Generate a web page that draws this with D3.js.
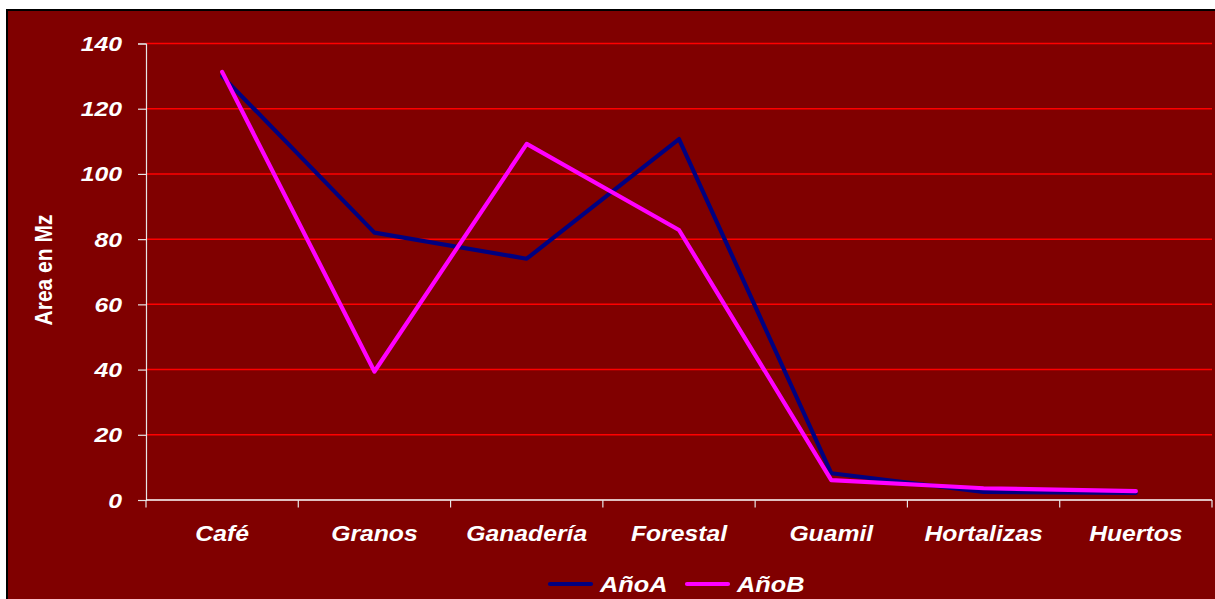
<!DOCTYPE html>
<html><head><meta charset="utf-8">
<script src="https://cdn.jsdelivr.net/npm/d3@7"></script>
<style>body{margin:0;background:#fff}svg{display:block}text{font-family:"Liberation Sans",Arial,sans-serif;font-weight:bold;font-style:italic;fill:#fff}</style>
</head><body>
<svg id="c" width="1215" height="599"></svg>
<script>
const categories = ["Café","Granos","Ganadería","Forestal","Guamil","Hortalizas","Huertos"];
const anoA = [130, 82, 74, 110.7, 8.2, 2.5, 2.2];
const anoB = [131.3, 39.4, 109.2, 82.8, 6.1, 3.6, 2.7];
const seriesNames = ["AñoA","AñoB"];
const yTicks = [0,20,40,60,80,100,120,140];

const svg = d3.select("#c");
const SX = 1.15;
svg.append("rect").attr("x",7).attr("y",10).attr("width",1220).attr("height",600)
  .attr("fill","#800000").attr("stroke","#000").attr("stroke-width",2);

const x = d3.scaleBand().domain(categories).range([146,1212]).padding(0);
const y = d3.scaleLinear().domain([0,140]).range([500,43.5]);
const cx = c => x(c) + x.bandwidth()/2;

// gridlines
svg.append("g").selectAll("line").data(yTicks.filter(t=>t>0)).join("line")
  .attr("x1",146).attr("x2",1212).attr("y1",d=>y(d)).attr("y2",d=>y(d))
  .attr("stroke","#ff0000").attr("stroke-width",1.5);

// y axis
const yAxis = svg.append("g").attr("transform","translate(146,0)")
  .call(d3.axisLeft(y).tickValues(yTicks).tickSize(8).tickFormat(d3.format("d")));
yAxis.select(".domain").attr("stroke","#e6e6e6").attr("stroke-width",1.2);
yAxis.selectAll(".tick line").attr("stroke","#e6e6e6").attr("stroke-width",1.2);
yAxis.selectAll(".tick text").remove();
svg.append("g").selectAll("text").data(yTicks).join("text")
  .attr("transform",d=>`translate(122,${y(d)+7.5}) scale(${SX+0.03},1)`)
  .attr("text-anchor","end").attr("font-size",21).text(d=>d);

// x axis
svg.append("line").attr("x1",146).attr("x2",1212).attr("y1",500).attr("y2",500)
  .attr("stroke","#fff").attr("stroke-width",1.5);
const bounds = categories.map(c=>x(c)).concat([1212]);
svg.append("g").selectAll("line").data(bounds).join("line")
  .attr("x1",d=>d).attr("x2",d=>d).attr("y1",500).attr("y2",507.5)
  .attr("stroke","#e6e6e6").attr("stroke-width",1.2);
svg.append("g").selectAll("text").data(categories).join("text")
  .attr("transform",d=>`translate(${cx(d)},541) scale(${SX},1)`)
  .attr("text-anchor","middle").attr("font-size",21.5).text(d=>d);

// y title
svg.append("text").attr("transform",`translate(52,270) scale(${SX},1) rotate(-90)`)
  .attr("text-anchor","middle").attr("font-size",21).style("font-style","normal")
  .text("Area en Mz");

// lines
const line = d3.line().x((d,i)=>cx(categories[i])).y(d=>y(d));
const colors = ["#000080","#ff00ff"];
[anoA, anoB].forEach((s,i)=>{
  svg.append("path").datum(s).attr("d",line).attr("fill","none")
    .attr("stroke",colors[i]).attr("stroke-width",4.2).attr("stroke-linejoin","round").attr("stroke-linecap","round");
});

// legend
const legX = [549, 686];
seriesNames.forEach((n,i)=>{
  svg.append("line").attr("x1",legX[i]+1).attr("x2",legX[i]+42).attr("y1",584).attr("y2",584)
    .attr("stroke",colors[i]).attr("stroke-width",4.2).attr("stroke-linecap","round");
  svg.append("text").attr("transform",`translate(${legX[i]+51},592) scale(${SX},1)`)
    .attr("font-size",22).text(n);
});
</script>
</body></html>
